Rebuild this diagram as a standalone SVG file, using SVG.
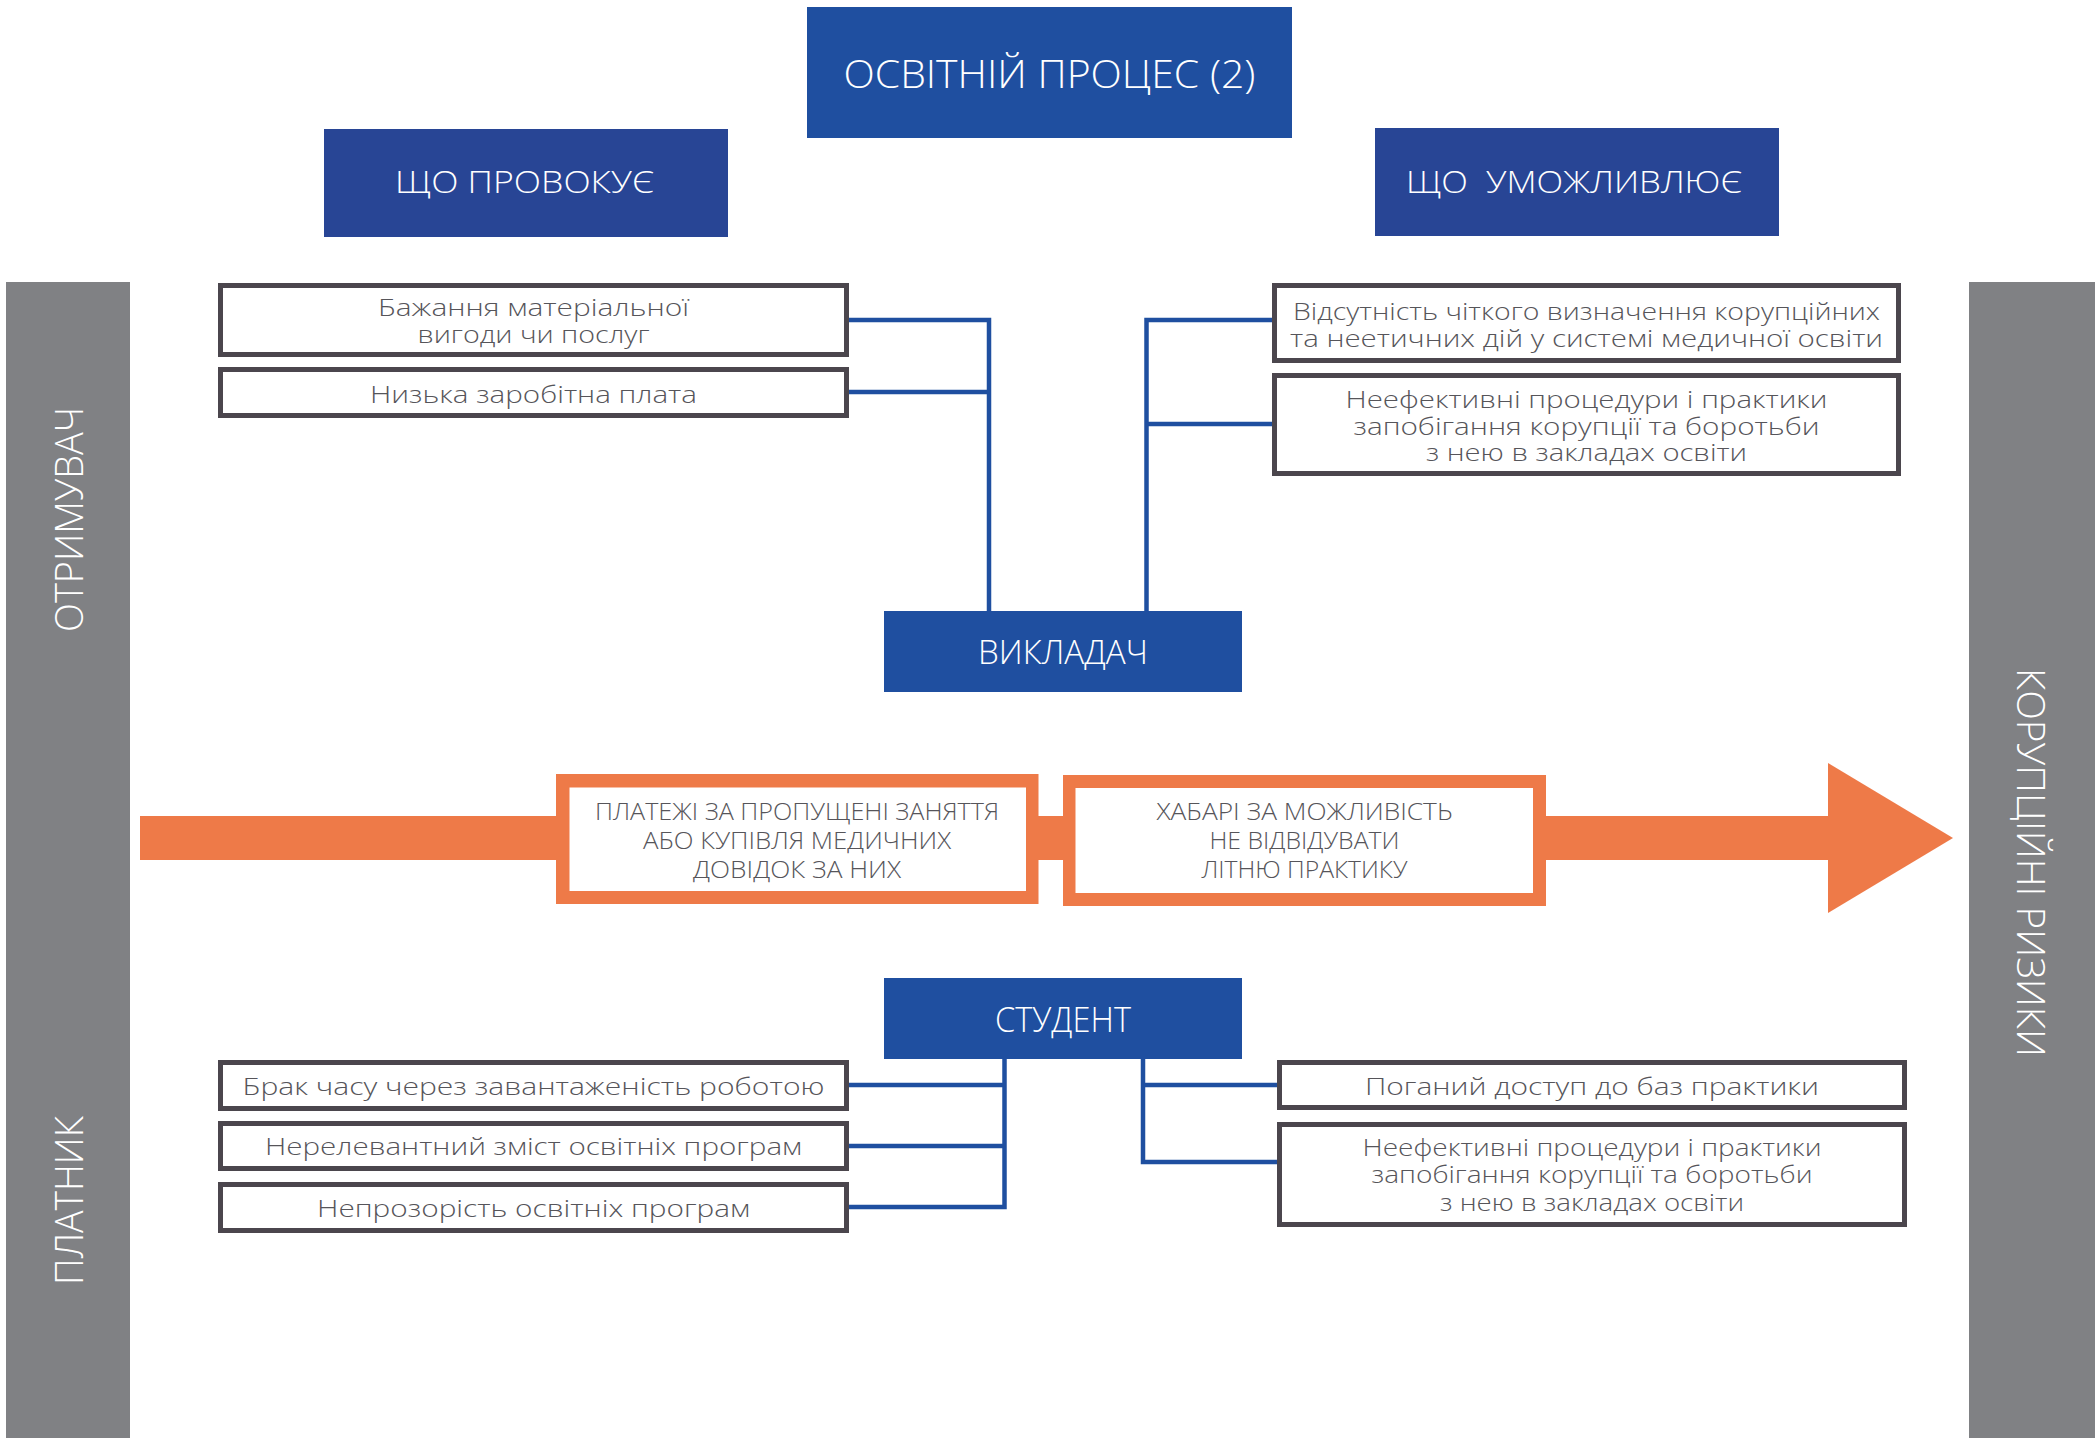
<svg xmlns="http://www.w3.org/2000/svg" width="2097" height="1438" viewBox="0 0 2097 1438">
<style>
.hdr{fill:#1f4fa0}
.hdr2{fill:#284595}
.wt{fill:#ffffff;font-family:"Open Sans","DejaVu Sans",sans-serif;font-weight:300;text-anchor:middle}
.box{fill:#ffffff;stroke:#4b464d;stroke-width:5}
.bt{fill:#56555a;font-family:"Open Sans","DejaVu Sans",sans-serif;font-weight:300;font-size:24px;text-anchor:middle}
.ot{fill:#56555a;font-family:"Open Sans","DejaVu Sans",sans-serif;font-weight:300;font-size:24px;text-anchor:middle}
.side{fill:#808184}
.st{fill:#ffffff;font-family:"Open Sans","DejaVu Sans",sans-serif;font-weight:300;font-size:39px;text-anchor:middle}
.org{fill:#ee7a48}
.con{fill:none;stroke:#1f4fa0;stroke-width:4.5;stroke-linecap:square}
</style>

<g id="side-left">
<rect class="side" x="6" y="282" width="124" height="1156"/>
<text class="st" transform="translate(83,519.5) rotate(-90)" textLength="225" lengthAdjust="spacingAndGlyphs">ОТРИМУВАЧ</text>
<text class="st" transform="translate(83,1200.5) rotate(-90)" textLength="169" lengthAdjust="spacingAndGlyphs">ПЛАТНИК</text>
</g>
<g id="side-right">
<rect class="side" x="1969" y="282" width="126" height="1156"/>
<text class="st" transform="translate(2017,862.5) rotate(90)" textLength="389" lengthAdjust="spacingAndGlyphs">КОРУПЦІЙНІ РИЗИКИ</text>
</g>

<g id="title">
<rect class="hdr" x="807" y="7" width="485" height="131"/>
<text class="wt" x="1049.5" y="88" font-size="39" textLength="412" lengthAdjust="spacingAndGlyphs">ОСВІТНІЙ ПРОЦЕС (2)</text>
</g>
<g id="provokes">
<rect class="hdr2" x="324" y="129" width="404" height="108"/>
<text class="wt" x="524.5" y="193" font-size="32" textLength="259" lengthAdjust="spacingAndGlyphs">ЩО ПРОВОКУЄ</text>
</g>
<g id="enables">
<rect class="hdr2" x="1375" y="128" width="404" height="108"/>
<text class="wt" x="1574" y="193" font-size="32" textLength="336" lengthAdjust="spacingAndGlyphs" xml:space="preserve">ЩО  УМОЖЛИВЛЮЄ</text>
</g>

<g id="connectors">
<path class="con" d="M849 320H989V611M849 392H989"/>
<path class="con" d="M1272 320H1146.5V611M1146.5 424H1272"/>
<path class="con" d="M849 1085H1004.5V1059M1004.5 1085V1207H849M849 1146H1004.5"/>
<path class="con" d="M1277 1085H1143V1059M1143 1085V1162H1277"/>
</g>

<g id="l1">
<rect class="box" x="220.5" y="285.5" width="626" height="69"/>
<text class="bt" x="533.5" y="316" textLength="311" lengthAdjust="spacingAndGlyphs">Бажання матеріальної</text>
<text class="bt" x="533.5" y="343" textLength="232" lengthAdjust="spacingAndGlyphs">вигоди чи послуг</text>
</g>
<g id="l2">
<rect class="box" x="220.5" y="369.5" width="626" height="46"/>
<text class="bt" x="533.5" y="403" textLength="327" lengthAdjust="spacingAndGlyphs">Низька заробітна плата</text>
</g>
<g id="r1">
<rect class="box" x="1274.5" y="285.5" width="624" height="75"/>
<text class="bt" x="1586.5" y="320" textLength="587" lengthAdjust="spacingAndGlyphs">Відсутність чіткого визначення корупційних</text>
<text class="bt" x="1586.5" y="347" textLength="593" lengthAdjust="spacingAndGlyphs">та неетичних дій у системі медичної освіти</text>
</g>
<g id="r2">
<rect class="box" x="1274.5" y="375.5" width="624" height="98"/>
<text class="bt" x="1586.5" y="408" textLength="482" lengthAdjust="spacingAndGlyphs">Неефективні процедури і практики</text>
<text class="bt" x="1586.5" y="435" textLength="466" lengthAdjust="spacingAndGlyphs">запобігання корупції та боротьби</text>
<text class="bt" x="1586.5" y="461" textLength="321" lengthAdjust="spacingAndGlyphs">з нею в закладах освіти</text>
</g>

<g id="teacher">
<rect class="hdr" x="884" y="611" width="358" height="81"/>
<text class="wt" x="1063" y="664" font-size="33" textLength="170" lengthAdjust="spacingAndGlyphs">ВИКЛАДАЧ</text>
</g>

<g id="arrow">
<rect class="org" x="140" y="816" width="1690" height="44"/>
<polygon class="org" points="1828,763 1953,838 1828,913"/>
</g>
<g id="o1">
<rect class="org" x="556" y="774" width="482.5" height="130"/>
<rect fill="#ffffff" x="569.5" y="787.5" width="456.5" height="103.5"/>
<text class="ot" x="797" y="820" textLength="404" lengthAdjust="spacingAndGlyphs">ПЛАТЕЖІ ЗА ПРОПУЩЕНІ ЗАНЯТТЯ</text>
<text class="ot" x="797" y="849" textLength="308" lengthAdjust="spacingAndGlyphs">АБО КУПІВЛЯ МЕДИЧНИХ</text>
<text class="ot" x="797" y="878" textLength="208" lengthAdjust="spacingAndGlyphs">ДОВІДОК ЗА НИХ</text>
</g>
<g id="o2">
<rect class="org" x="1063" y="775" width="483" height="131"/>
<rect fill="#ffffff" x="1075.5" y="788" width="457.5" height="105"/>
<text class="ot" x="1304.5" y="820" textLength="296" lengthAdjust="spacingAndGlyphs">ХАБАРІ ЗА МОЖЛИВІСТЬ</text>
<text class="ot" x="1304.5" y="849" textLength="190" lengthAdjust="spacingAndGlyphs">НЕ ВІДВІДУВАТИ</text>
<text class="ot" x="1304.5" y="878" textLength="206" lengthAdjust="spacingAndGlyphs">ЛІТНЮ ПРАКТИКУ</text>
</g>

<g id="student">
<rect class="hdr" x="884" y="978" width="358" height="81"/>
<text class="wt" x="1063" y="1032" font-size="34" textLength="136" lengthAdjust="spacingAndGlyphs">СТУДЕНТ</text>
</g>

<g id="lb1">
<rect class="box" x="220.5" y="1062.5" width="626" height="46"/>
<text class="bt" x="533.5" y="1095" textLength="582" lengthAdjust="spacingAndGlyphs">Брак часу через завантаженість роботою</text>
</g>
<g id="lb2">
<rect class="box" x="220.5" y="1123.5" width="626" height="45"/>
<text class="bt" x="533.5" y="1155" textLength="537" lengthAdjust="spacingAndGlyphs">Нерелевантний зміст освітніх програм</text>
</g>
<g id="lb3">
<rect class="box" x="220.5" y="1184.5" width="626" height="46"/>
<text class="bt" x="533.5" y="1217" textLength="433" lengthAdjust="spacingAndGlyphs">Непрозорість освітніх програм</text>
</g>
<g id="rb1">
<rect class="box" x="1279.5" y="1062.5" width="625" height="45"/>
<text class="bt" x="1592" y="1095" textLength="454" lengthAdjust="spacingAndGlyphs">Поганий доступ до баз практики</text>
</g>
<g id="rb2">
<rect class="box" x="1279.5" y="1124.5" width="625" height="100"/>
<text class="bt" x="1592" y="1156" textLength="459" lengthAdjust="spacingAndGlyphs">Неефективні процедури і практики</text>
<text class="bt" x="1592" y="1183" textLength="441" lengthAdjust="spacingAndGlyphs">запобігання корупції та боротьби</text>
<text class="bt" x="1592" y="1211" textLength="304" lengthAdjust="spacingAndGlyphs">з нею в закладах освіти</text>
</g>
</svg>
